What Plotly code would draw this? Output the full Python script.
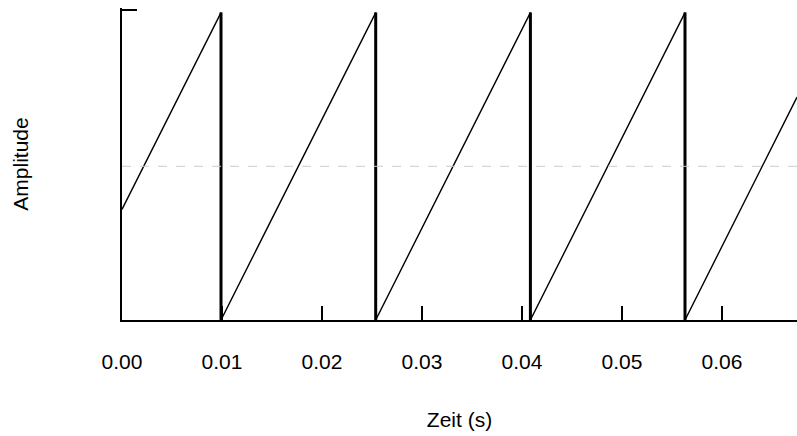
import plotly.graph_objects as go

# Sawtooth vertices (time in s, amplitude)
t_vals = [0.0, 0.0099, 0.0099, 0.02537, 0.02537, 0.04084, 0.04084, 0.0563, 0.0563, 0.0675]
amp_vals = [-0.28, 1.0, -1.0, 1.0, -1.0, 1.0, -1.0, 1.0, -1.0, 0.45]

# Times of the vertical drops
drop_times = [0.0099, 0.02537, 0.04084, 0.0563]
drop_top = 1.0
drop_bottom = -1.0

x_ticks = [0.00, 0.01, 0.02, 0.03, 0.04, 0.05, 0.06]
x_tick_text = ["0.00", "0.01", "0.02", "0.03", "0.04", "0.05", "0.06"]
y_ticks = [-1.0, 1.02]

fig = go.Figure()
fig.add_trace(go.Scatter(x=t_vals, y=amp_vals, mode="lines",
                         line=dict(color="black", width=1.4), hoverinfo="skip",
                         showlegend=False))
dx, dy = [], []
for d in drop_times:
    dx += [d, d, None]
    dy += [drop_top, drop_bottom, None]
fig.add_trace(go.Scatter(x=dx, y=dy, mode="lines",
                         line=dict(color="black", width=3), hoverinfo="skip",
                         showlegend=False))
fig.add_hline(y=0, line=dict(color="#cccccc", width=1, dash="dash"))

font = dict(family="Liberation Sans, Arial, Helvetica, sans-serif", size=21, color="black")
fig.update_layout(
    width=797, height=436,
    margin=dict(l=122, r=0, t=8, b=116),
    paper_bgcolor="white", plot_bgcolor="white",
    font=font,
    xaxis=dict(range=[0, 0.0675], tickvals=x_ticks, ticktext=x_tick_text,
               ticks="inside", ticklen=14, tickwidth=1.5, tickcolor="black",
               showline=True, linecolor="black", linewidth=1.5,
               showgrid=False, zeroline=False, ticklabelstandoff=22,
               tickfont=font,
               title=dict(text="Zeit (s)", standoff=40, font=font)),
    yaxis=dict(range=[-1.0, 1.03], tickvals=y_ticks, showticklabels=False,
               ticks="inside", ticklen=15, tickwidth=1.5, tickcolor="black",
               showline=True, linecolor="black", linewidth=1.5,
               showgrid=False, zeroline=False,
               title=dict(text="Amplitude", standoff=86, font=font)),
)
fig.write_html("out.html")
